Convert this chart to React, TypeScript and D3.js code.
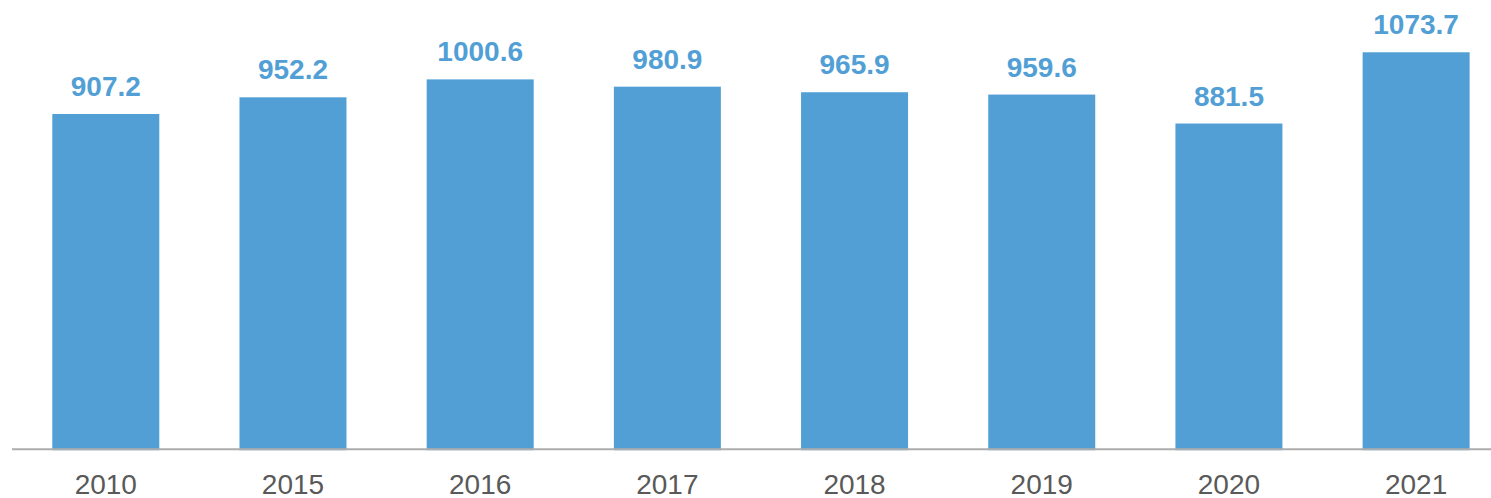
import React from "react";
import * as d3 from "d3";

const categories = ["2010", "2015", "2016", "2017", "2018", "2019", "2020", "2021"];
const values = [907.2, 952.2, 1000.6, 980.9, 965.9, 959.6, 881.5, 1073.7];
const valueLabels = ["907.2", "952.2", "1000.6", "980.9", "965.9", "959.6", "881.5", "1073.7"];

const W = 1491;
const H = 498;

export default function App() {
  const step = 187.19;
  const x = d3
    .scaleBand<string>()
    .domain(categories)
    .range([12.2, 12.2 + step * categories.length])
    .paddingInner(0.4284)
    .paddingOuter(0.2142);
  const y = d3.scaleLinear().domain([0, 1200]).range([450.2, 450.2 - 1200 * 0.3706]);
  const font = "'Liberation Sans', Arial, sans-serif";
  return (
    <svg
      width={W}
      height={H}
      style={{ position: "absolute", left: 0, top: 0, display: "block" }}
    >
      <rect width={W} height={H} fill="#ffffff" />
      {categories.map((c, i) => (
        <rect
          key={c}
          x={x(c)}
          y={y(values[i])}
          width={x.bandwidth()}
          height={y(0) - y(values[i])}
          fill="#529FD6"
        />
      ))}
      <line x1={12} x2={W} y1={449.3} y2={449.3} stroke="#ADADAD" strokeWidth={2} />
      {categories.map((c, i) => (
        <text
          key={"v" + c}
          x={(x(c) as number) + x.bandwidth() / 2}
          y={y(values[i]) - 18}
          textAnchor="middle"
          fontFamily={font}
          fontWeight="bold"
          fontSize={28}
          fill="#529FD6"
        >
          {valueLabels[i]}
        </text>
      ))}
      {categories.map((c) => (
        <text
          key={"c" + c}
          x={(x(c) as number) + x.bandwidth() / 2}
          y={494}
          textAnchor="middle"
          fontFamily={font}
          fontSize={28}
          fill="#595959"
        >
          {c}
        </text>
      ))}
    </svg>
  );
}
